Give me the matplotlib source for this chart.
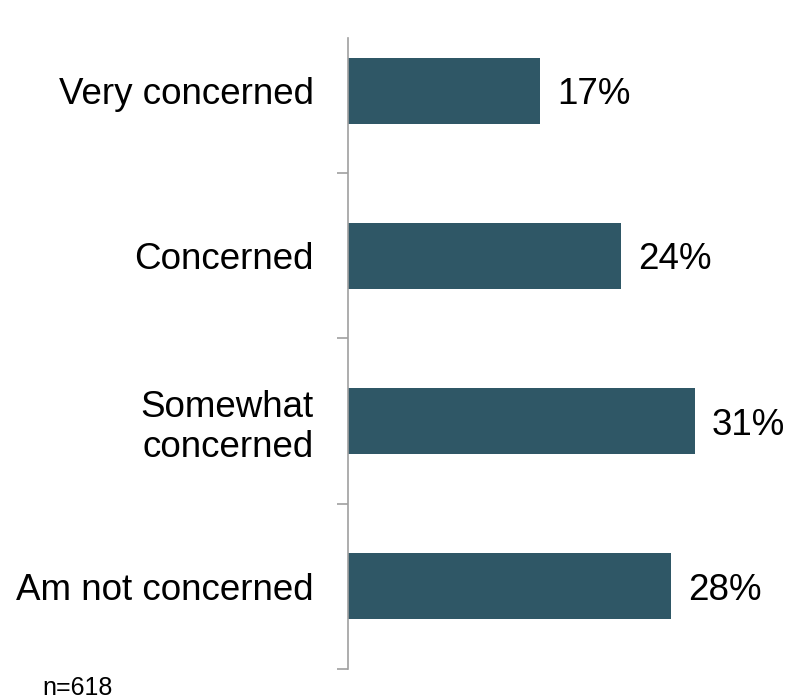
import numpy as np
import matplotlib.pyplot as plt

plt.rcParams['font.family'] = ['Liberation Sans', 'DejaVu Sans']

# data
categories = ['Very concerned', 'Concerned', 'Somewhat\nconcerned', 'Am not concerned']
values = [16.9, 24.0, 30.5, 28.4]
labels = ['17%', '24%', '31%', '28%']
note = 'n=618'

fig = plt.figure(figsize=(7.9, 7), dpi=100)
ax = fig.add_axes([0.44, 0.0443, 0.56, 0.9014])

y = np.arange(len(categories))
ax.barh(y, values, height=0.4, color='#2f5766')

# value labels to the right of each bar
for yi, v, lab in zip(y, values, labels):
    ax.annotate(lab, xy=(v, yi), xytext=(12, 0), textcoords='offset points',
                va='center_baseline', ha='left', fontsize=26.5, color='black')

ax.set_xlim(0, 38.8)
ax.set_ylim(3.5, -0.318)

ax.set_yticks(y)
ax.set_yticklabels(categories, fontsize=26.5)
ax.tick_params(axis='y', which='major', length=0, pad=24.5)
# small tick marks between the categories
ax.set_yticks(y + 0.5, minor=True)
ax.tick_params(axis='y', which='minor', length=8, width=1.2, color='#a0a0a0')
ax.set_xticks([])

for side in ['top', 'right', 'bottom']:
    ax.spines[side].set_visible(False)
ax.spines['left'].set_color('#a0a0a0')
ax.spines['left'].set_linewidth(1.2)

fig.text(42 / 790, 1 - 695 / 700, note, fontsize=18, ha='left', va='baseline')

fig.savefig('out.png', dpi=100)
